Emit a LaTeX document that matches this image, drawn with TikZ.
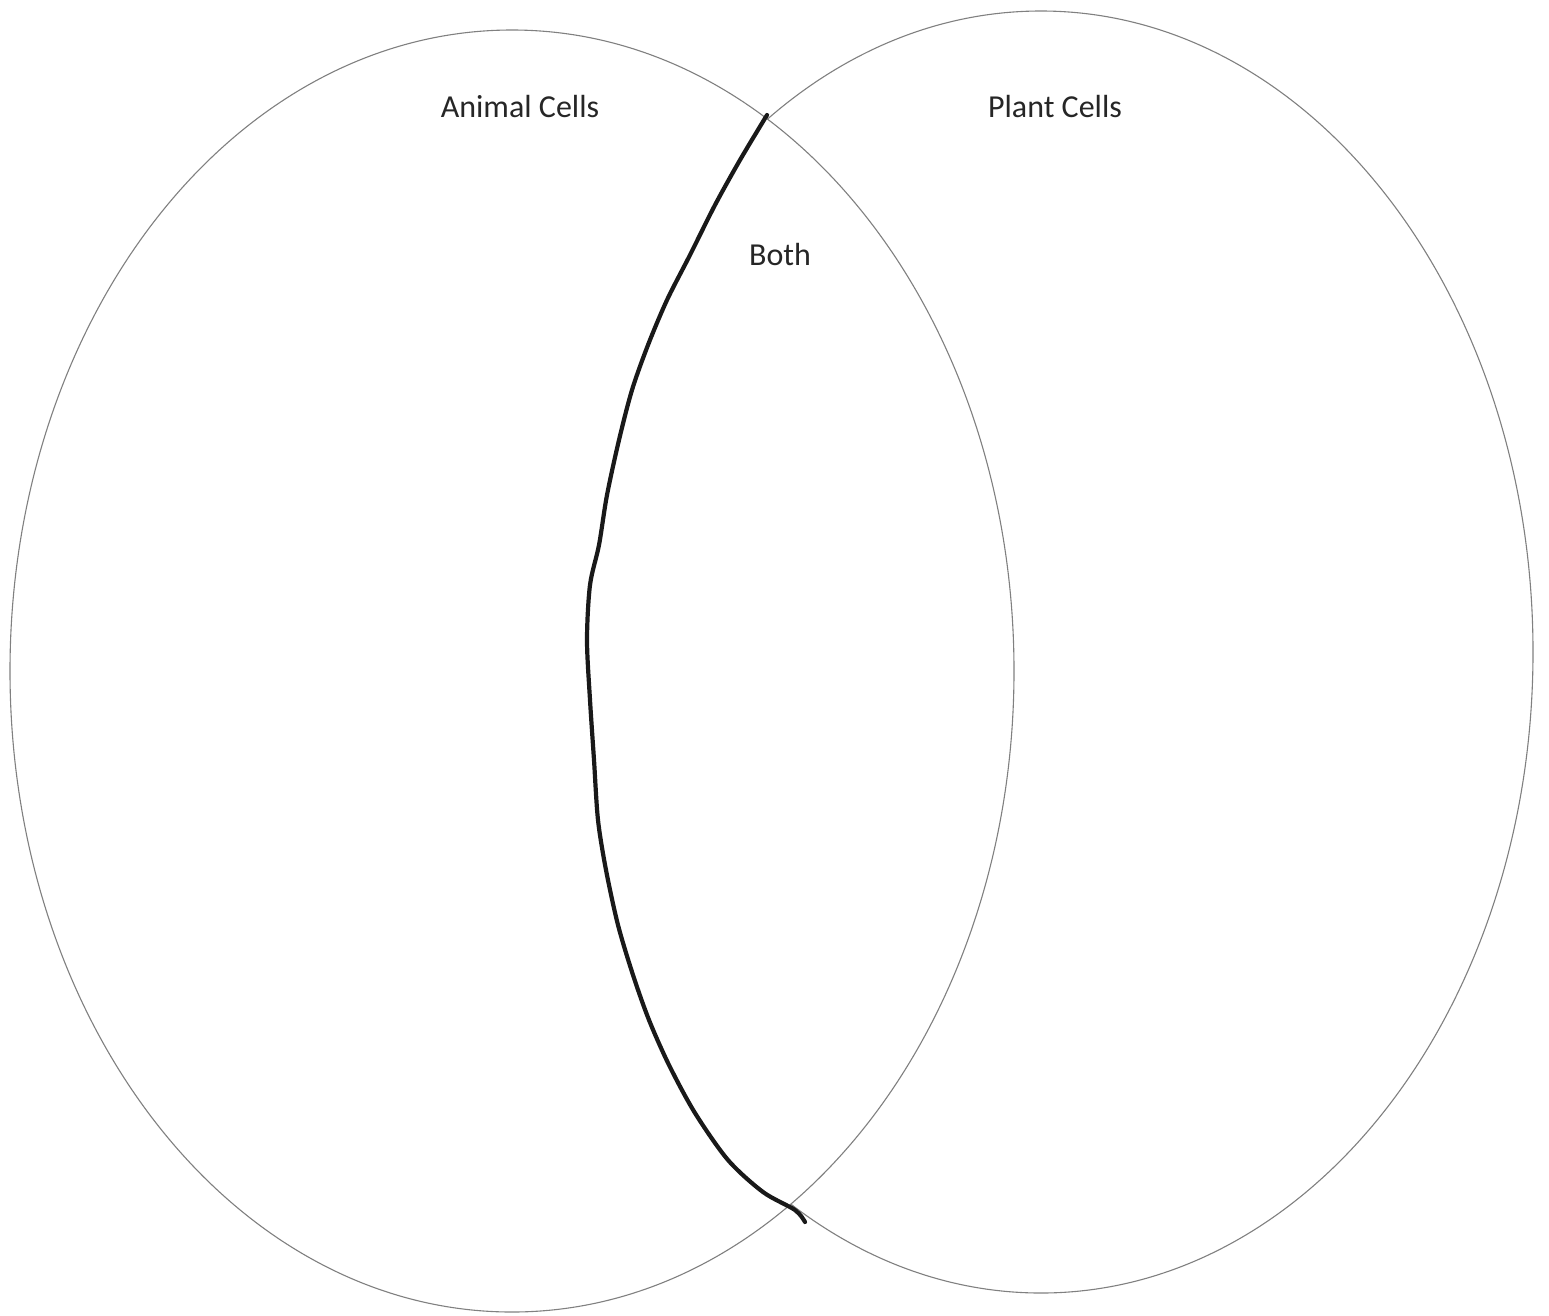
\documentclass[tikz,border=0pt]{standalone}
\usepackage{fontspec}
\setmainfont{Carlito}
\tikzset{
  setline/.style={draw=black!50, line width=1.1pt},
  divider/.style={draw=black!90, line width=4.2pt, line cap=round, line join=round},
  lbl/.style={font=\fontsize{32}{38}\selectfont, text=black!85, inner sep=0pt}
}
\begin{document}
\begin{tikzpicture}[x=1pt,y=-1pt]
\useasboundingbox (0,0) rectangle (1549,1315);
\fill[white] (0,0) rectangle (1549,1315);
\draw[setline] (512,671) ellipse [x radius=502, y radius=641];
\begin{scope}[even odd rule]
  \clip (0,0) rectangle (1549,1315) (512,671) ellipse [x radius=502, y radius=641];
  \draw[setline] (1041,652) ellipse [x radius=492, y radius=641];
\end{scope}
\draw[divider] plot[smooth, tension=0.5] coordinates {
 (767,115) (740,160) (715,205) (690,255) (667,300) (648,345) (632,390)
 (619,440) (607,495) (599,545) (590,585) (587,640) (590,700) (594,760)
 (598,820) (606,870) (618,925) (633,975) (649,1020) (669,1065) (695,1113)
 (728,1160) (763,1192) (795,1210) (805,1222)};
\node[lbl] (animal) at (520,107) {Animal Cells};
\node[lbl] (plant) at (1055,107) {Plant Cells};
\node[lbl] (both) at (780,255) {Both};
\end{tikzpicture}
\end{document}
